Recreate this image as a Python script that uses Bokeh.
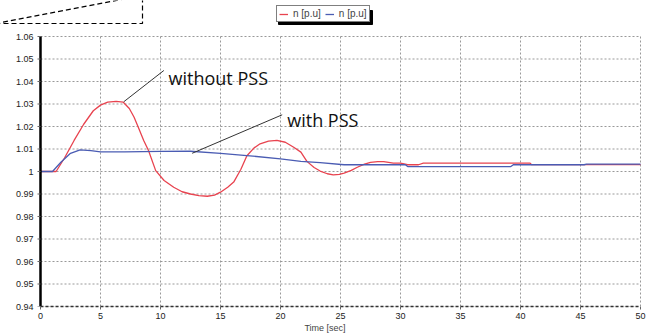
from bokeh.plotting import figure
from bokeh.models import (Range1d, Legend, LegendItem, FixedTicker, PolyAnnotation, BoxAnnotation)
from bokeh.core.properties import value
from bokeh.embed import file_html
from bokeh.resources import INLINE

# ---- data ----
t_without = [0, 1.3, 2.0, 2.8, 3.6, 4.4, 5.0, 5.6, 6.3, 6.9, 7.4, 7.8, 8.2, 8.6, 9.0, 9.6,
             10.3, 11.1, 11.8, 12.5, 13.2, 13.9, 14.5, 15.0, 15.6, 16.1, 16.7, 17.2, 17.8,
             18.3, 19.0, 19.7, 20.4, 21.1, 21.7, 22.2, 22.8, 23.3, 23.9, 24.4, 24.9, 25.3,
             25.9, 26.4, 27.0, 27.5, 28.1, 28.6, 29.4, 30.0, 30.6, 31.5, 31.9, 40.8, 40.9, 50]
n_without = [1.0, 1.0, 1.006, 1.0138, 1.021, 1.027, 1.0295, 1.0308, 1.0312, 1.0308, 1.028,
             1.0241, 1.019, 1.0138, 1.0093, 1.0004, 0.996, 0.993, 0.991, 0.990, 0.9893,
             0.989, 0.9895, 0.9908, 0.993, 0.9953, 1.001, 1.007, 1.0105, 1.0123, 1.0135,
             1.0138, 1.013, 1.0108, 1.0086, 1.0045, 1.0018, 1.0002, 0.999, 0.9985, 0.9987,
             0.9993, 1.0005, 1.0019, 1.0033, 1.0041, 1.0044, 1.0044, 1.0037, 1.0037, 1.003,
             1.003, 1.0037, 1.0037, 1.0031, 1.0031]

t_with = [0, 1.0, 1.7, 2.5, 3.3, 4.2, 5.0, 7.0, 10.0, 12.5, 15.0, 17.2, 20.0, 21.7, 23.3,
          25.3, 30.4, 30.6, 39.2, 39.4, 45.3, 45.5, 50]
n_with = [1.0, 1.0, 1.0041, 1.0081, 1.0096, 1.0093, 1.0087, 1.0087, 1.0089, 1.009, 1.0081,
          1.0071, 1.0056, 1.0045, 1.0039, 1.003, 1.003, 1.0022, 1.0022, 1.003, 1.003,
          1.0033, 1.0033]

x_ticks = [0, 5, 10, 15, 20, 25, 30, 35, 40, 45, 50]
y_ticks = [0.94, 0.95, 0.96, 0.97, 0.98, 0.99, 1.0, 1.01, 1.02, 1.03, 1.04, 1.05, 1.06]
y_tick_labels = ["0.94", "0.95", "0.96", "0.97", "0.98", "0.99", "1", "1.01", "1.02",
                 "1.03", "1.04", "1.05", "1.06"]
legend_labels = ["n [p.u]", "n [p.u]"]
x_label = "Time [sec]"

notes = ["without PSS", "with PSS"]
note_x = [10.67, 20.56]
note_y = [1.0415, 1.0227]
lead_x0 = [10.28, 20.14]
lead_y0 = [1.0449, 1.0252]
lead_x1 = [6.94, 12.64]
lead_y1 = [1.031, 1.0081]

RED = "#e8434f"
BLUE = "#4a5cb3"
FONT = "Liberation Sans"
GRID = "#999999"

X0, X1 = x_ticks[0], x_ticks[-1]
Y0, Y1 = y_ticks[0], y_ticks[-1]
PX_X = 12.0      # pixels per second
PX_Y = 2250.0    # pixels per p.u.
LEFT_PAD, RIGHT_PAD, TOP_PAD = 40, 9, 36

W, H, BOTTOM = 649, 335, 29
p = figure(width=W, height=H, output_backend="svg", toolbar_location=None,
           x_range=Range1d(X0 - LEFT_PAD / PX_X, X1 + RIGHT_PAD / PX_X),
           y_range=Range1d(Y0, Y1 + TOP_PAD / PX_Y),
           min_border_left=0, min_border_right=0, min_border_top=0, min_border_bottom=BOTTOM)
p.background_fill_color = "white"
p.border_fill_color = "white"
p.outline_line_color = None
p.grid.visible = False
p.yaxis.visible = False

# grid (dashed, restricted to the data box)
p.segment(x0=x_ticks, y0=Y0, x1=x_ticks, y1=Y1, line_color=GRID, line_dash="2 2", line_width=1)
p.segment(x0=X0, y0=y_ticks, x1=X1, y1=y_ticks, line_color=GRID, line_dash="2 2", line_width=1)

r1 = p.line(t_without, n_without, line_color=RED, line_width=1.3)
r2 = p.line(t_with, n_with, line_color=BLUE, line_width=1.3)

# y axis drawn from the tick list
p.segment(x0=X0, y0=Y0, x1=X0, y1=Y1, line_color="black", line_width=2.5)
p.segment(x0=X0 - 3 / PX_X, y0=y_ticks, x1=X0, y1=y_ticks, line_color="#666666", line_width=1)
p.text(x=X0 - 7 / PX_X, y=y_ticks, text=y_tick_labels, text_font=value(FONT),
       text_font_size="9px", text_align="right", text_baseline="middle", text_color="#222222",
       level="overlay")

# leader lines and notes
p.segment(x0=lead_x0, y0=lead_y0, x1=lead_x1, y1=lead_y1, line_color="#333333", line_width=1)
p.text(x=note_x, y=note_y, text=notes, text_font=value("Open Sans"), text_font_size="18px",
       text_baseline="alphabetic", text_align="left", text_color="#111111")

# x axis
xa = p.xaxis[0]
xa.ticker = FixedTicker(ticks=x_ticks)
xa.bounds = (X0, X1)
xa.major_label_text_font = FONT
xa.major_label_text_font_size = "9px"
xa.major_label_text_color = "#222222"
xa.minor_tick_line_color = None
xa.major_tick_in = 0
xa.major_tick_out = 3
xa.major_tick_line_color = "#666666"
xa.major_label_standoff = 3
xa.axis_line_color = "#333333"
xa.axis_line_dash = "3 2"
xa.axis_line_width = 1.5
xa.axis_label = x_label
xa.axis_label_text_font = FONT
xa.axis_label_text_font_size = "9px"
xa.axis_label_text_font_style = "normal"
xa.axis_label_standoff = 1

# legend with a drop shadow
fh = H - BOTTOM
LEG_L, LEG_B, LEG_W, LEG_H = 276, fh - 22, 94, 14
shadow = BoxAnnotation(left=LEG_L + 2, right=LEG_L + LEG_W + 2, bottom=LEG_B - 2,
                       top=LEG_B + LEG_H - 2, left_units="screen", right_units="screen",
                       bottom_units="screen", top_units="screen",
                       fill_color="black", fill_alpha=1, line_color="black", line_alpha=1)
p.add_layout(shadow)

legend = Legend(items=[LegendItem(label=legend_labels[0], renderers=[r1]),
                       LegendItem(label=legend_labels[1], renderers=[r2])],
                location=(LEG_L, LEG_B), orientation="horizontal", margin=0,
                padding=2, spacing=4, label_standoff=5, glyph_width=9, glyph_height=10,
                label_height=10, label_text_font=FONT, label_text_font_size="10px",
                border_line_color="black", border_line_width=1,
                background_fill_color="white", background_fill_alpha=1)
p.add_layout(legend, "center")

# dashed box corner at top-left
corner = PolyAnnotation(xs=[-5, 142, 142], ys=[fh - 23, fh - 23, fh + 5],
                        xs_units="screen", ys_units="screen",
                        fill_alpha=0, line_color="black", line_alpha=1,
                        line_dash="5 3", line_width=1.2)
p.add_layout(corner)

open("out.html", "w").write(file_html(p, INLINE))
